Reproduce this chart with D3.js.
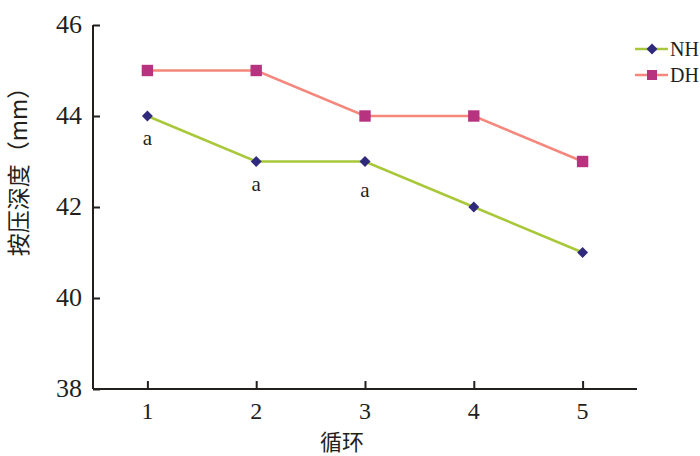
<!DOCTYPE html>
<html>
<head>
<meta charset="utf-8">
<script src="https://cdn.jsdelivr.net/npm/d3@7"></script>
<style>
  body { margin: 0; background: #fff; }
  svg { display: block; }
</style>
</head>
<body>
<svg id="chart" width="700" height="456"></svg>
<script>
const cycles = [1, 2, 3, 4, 5]
const nh = [44, 43, 43, 42, 41]
const dh = [45, 45, 44, 44, 43]
const yTicks = [38, 40, 42, 44, 46]
// significance letters under the NH points
const nhMarks = ['a', 'a', 'a', '', '']

const svg = d3.select('#chart')
const serif = '"Liberation Serif", "DejaVu Serif", serif'
const cjk = '"Noto Sans CJK SC", sans-serif'
const ink = '#231f1c'

const x = d3.scaleLinear().domain([0.5, 5.5]).range([93, 637])
const y = d3.scaleLinear().domain([38, 46]).range([389, 25])

// axes
const xAxis = svg.append('g')
  .attr('transform', `translate(0, ${y(38)})`)
  .call(d3.axisTop(x).tickValues(cycles).tickSize(8).tickFormat(''))
xAxis.select('.domain').attr('d', `M${x(0.5)},0H${x(5.5)}`)

const yAxis = svg.append('g')
  .attr('transform', `translate(${x(0.5)}, 0)`)
  .call(d3.axisRight(y).tickValues(yTicks).tickSize(7).tickFormat(''))
yAxis.select('.domain').attr('d', `M0,${y(46)}V${y(38)}`)

svg.selectAll('.domain').attr('stroke', ink).attr('stroke-width', 2)
svg.selectAll('.tick line').attr('stroke', ink).attr('stroke-width', 2)

// tick labels
svg.append('g').selectAll('text')
  .data(cycles)
  .join('text')
  .attr('x', d => x(d))
  .attr('y', 419)
  .attr('text-anchor', 'middle')
  .attr('font-family', serif)
  .attr('font-size', 24)
  .attr('fill', ink)
  .text(d => d)

svg.append('g').selectAll('text')
  .data(yTicks)
  .join('text')
  .attr('x', 82)
  .attr('y', d => y(d) + 8)
  .attr('text-anchor', 'end')
  .attr('font-family', serif)
  .attr('font-size', 26)
  .attr('fill', ink)
  .text(d => d)

// axis titles
svg.append('text')
  .attr('x', 342)
  .attr('y', 449.5)
  .attr('text-anchor', 'middle')
  .attr('font-family', cjk)
  .attr('font-size', 22)
  .attr('fill', ink)
  .text('循环')

svg.append('text')
  .attr('transform', 'translate(27, 166) rotate(-90)')
  .attr('text-anchor', 'middle')
  .attr('font-family', cjk)
  .attr('font-size', 23)
  .attr('fill', ink)
  .text('按压深度（mm）')

// lines
const line = d3.line().x((d, i) => x(cycles[i])).y(d => y(d))

svg.append('path')
  .datum(dh)
  .attr('d', line)
  .attr('fill', 'none')
  .attr('stroke', '#f5877c')
  .attr('stroke-width', 2.5)

svg.append('path')
  .datum(nh)
  .attr('d', line)
  .attr('fill', 'none')
  .attr('stroke', '#a8c83a')
  .attr('stroke-width', 2.5)

// square-ish diamond, half diagonal r
const diamondType = {
  draw(ctx, size) {
    const r = Math.sqrt(size / 2)
    ctx.moveTo(0, -r)
    ctx.lineTo(r, 0)
    ctx.lineTo(0, r)
    ctx.lineTo(-r, 0)
    ctx.closePath()
  }
}
const square = d3.symbol().type(d3.symbolSquare).size(130)
const diamond = d3.symbol().type(diamondType).size(60)

svg.append('g').selectAll('path')
  .data(dh)
  .join('path')
  .attr('transform', (d, i) => `translate(${x(cycles[i])}, ${y(d)})`)
  .attr('d', square)
  .attr('fill', '#b8337f')

svg.append('g').selectAll('path')
  .data(nh)
  .join('path')
  .attr('transform', (d, i) => `translate(${x(cycles[i])}, ${y(d)})`)
  .attr('d', diamond)
  .attr('fill', '#2f2a7c')

svg.append('g').selectAll('text')
  .data(nh)
  .join('text')
  .attr('x', (d, i) => x(cycles[i]))
  .attr('y', (d, i) => y(d) + 29 + (i === 2 ? 6 : 0))
  .attr('text-anchor', 'middle')
  .attr('font-family', serif)
  .attr('font-size', 21)
  .attr('fill', ink)
  .text((d, i) => nhMarks[i])

// legend
const legend = [
  { name: 'NH', color: '#a8c83a', mark: '#2f2a7c', sym: diamond },
  { name: 'DH', color: '#f5877c', mark: '#b8337f', sym: d3.symbol().type(d3.symbolSquare).size(100) }
]
const lg = svg.append('g').selectAll('g')
  .data(legend)
  .join('g')
  .attr('transform', (d, i) => `translate(635, ${49 + i * 26})`)
lg.append('line')
  .attr('x1', 0).attr('x2', 33)
  .attr('stroke', d => d.color)
  .attr('stroke-width', 2.5)
lg.append('path')
  .attr('transform', 'translate(17, 0)')
  .attr('d', d => d.sym())
  .attr('fill', d => d.mark)
lg.append('text')
  .attr('x', 35)
  .attr('y', 7)
  .attr('font-family', serif)
  .attr('font-size', 20)
  .attr('fill', ink)
  .text(d => d.name)
</script>
</body>
</html>
